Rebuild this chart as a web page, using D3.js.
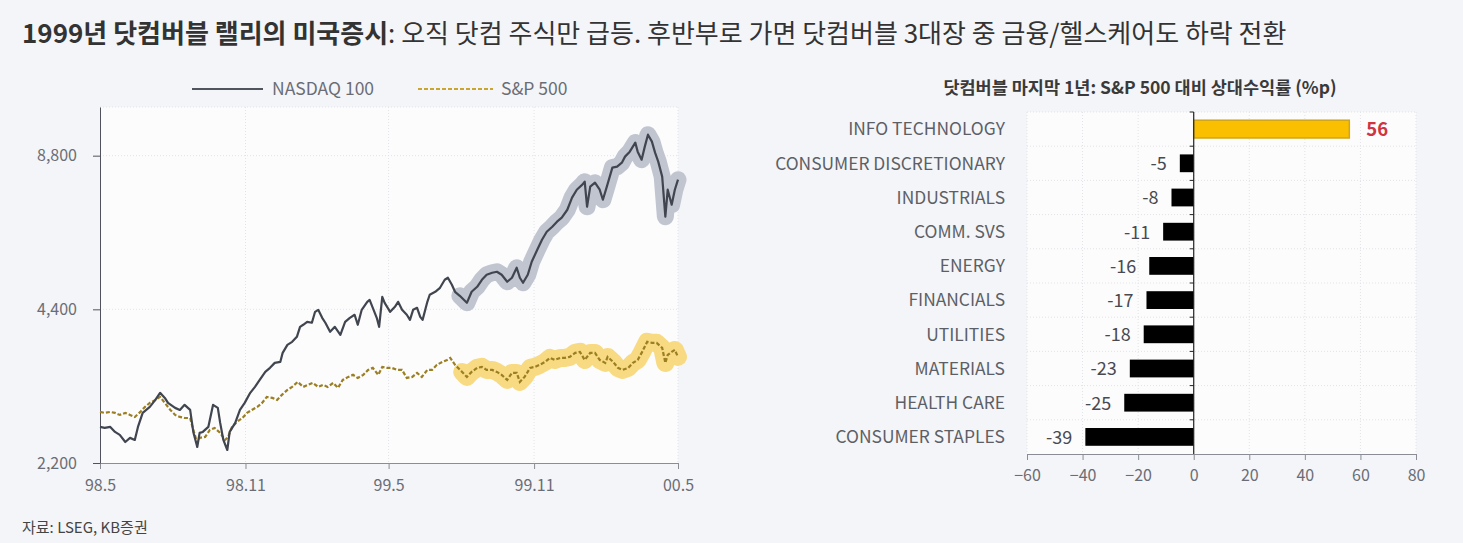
<!DOCTYPE html>
<html>
<head>
<meta charset="utf-8">
<script src="https://cdn.jsdelivr.net/npm/d3@7"></script>
<style>
  body { margin: 0; background: #f4f5f8; }
  svg { display: block; font-family: "Noto Sans CJK KR", "Noto Sans", sans-serif; }
</style>
</head>
<body>
<div id="chart"></div>
<script>
// NASDAQ 100 / S&P 500 (같은 축에 환산된 값)
const nasdaq = [
  ["1998-05-01",2589],["1998-05-07",2577],["1998-05-14",2589],["1998-05-20",2531],["1998-05-26",2498],
  ["1998-06-02",2419],["1998-06-08",2464],["1998-06-14",2441],["1998-06-18",2589],["1998-06-24",2758],
  ["1998-07-03",2834],["1998-07-10",2924],["1998-07-16",3019],["1998-07-22",2951],["1998-07-26",2885],
  ["1998-08-04",2821],["1998-08-10",2795],["1998-08-16",2860],["1998-08-23",2795],["1998-08-27",2531],
  ["1998-09-01",2365],["1998-09-04",2520],["1998-09-08",2531],["1998-09-15",2589],["1998-09-21",2860],
  ["1998-09-27",2821],["1998-09-30",2636],["1998-10-04",2441],["1998-10-09",2333],["1998-10-12",2531],
  ["1998-10-19",2636],["1998-10-25",2795],["1998-10-31",2885],["1998-11-07",3019],["1998-11-13",3101],
  ["1998-11-19",3200],["1998-11-26",3318],["1998-12-02",3379],["1998-12-08",3456],["1998-12-15",3471],
  ["1998-12-18",3615],["1998-12-24",3749],["1998-12-30",3800],["1999-01-05",3887],["1999-01-09",4066],
  ["1999-01-13",4104],["1999-01-18",4159],["1999-01-24",4141],["1999-01-28",4351],["1999-02-01",4390],
  ["1999-02-06",4235],["1999-02-10",4141],["1999-02-16",3976],["1999-02-22",4066],["1999-03-01",3922],
  ["1999-03-07",4159],["1999-03-13",4235],["1999-03-19",4293],["1999-03-23",4104],["1999-03-28",4390],
  ["1999-04-04",4552],["1999-04-07",4592],["1999-04-11",4430],["1999-04-16",4235],["1999-04-19",4066],
  ["1999-04-23",4656],["1999-04-26",4531],["1999-05-03",4351],["1999-05-09",4450],["1999-05-13",4552],
  ["1999-05-18",4390],["1999-05-24",4293],["1999-05-28",4196],["1999-06-01",4390],["1999-06-06",4430],
  ["1999-06-10",4254],["1999-06-13",4196],["1999-06-19",4552],["1999-06-22",4699],["1999-06-29",4762],
  ["1999-07-05",4849],["1999-07-11",5027],["1999-07-15",5073],["1999-07-20",4916],["1999-07-24",4762],
  ["1999-07-30",4677],["1999-08-08",4531],["1999-08-14",4762],["1999-08-21",4871],["1999-08-27",5027],
  ["1999-09-02",5143],["1999-09-09",5189],["1999-09-15",5213],["1999-09-21",5143],["1999-09-28",4983],
  ["1999-10-04",5073],["1999-10-10",5308],["1999-10-14",5073],["1999-10-18",4960],["1999-10-24",5143],
  ["1999-10-29",5453],["1999-11-05",5757],["1999-11-11",6022],["1999-11-17",6244],["1999-11-24",6387],
  ["1999-11-30",6533],["1999-12-06",6652],["1999-12-13",6895],["1999-12-19",7281],["1999-12-25",7547],
  ["2000-01-01",7722],["2000-01-04",7826],["2000-01-07",6990],["2000-01-11",7652],["2000-01-17",7791],
  ["2000-01-23",7547],["2000-01-27",7214],["2000-02-01",7652],["2000-02-08",8336],["2000-02-14",8375],
  ["2000-02-20",8527],["2000-02-24",8762],["2000-03-01",8961],["2000-03-08",9333],["2000-03-11",8961],
  ["2000-03-16",8642],["2000-03-20",9166],["2000-03-24",9674],["2000-03-29",9375],["2000-04-02",8921],
  ["2000-04-06",8566],["2000-04-11",8005],["2000-04-15",6682],["2000-04-18",7547],["2000-04-23",7054],
  ["2000-04-27",7547],["2000-05-01",7896]
];

const sp500 = [
  ["1998-05-01",2770],["1998-05-07",2758],["1998-05-14",2770],["1998-05-20",2758],["1998-05-26",2733],
  ["1998-06-02",2758],["1998-06-08",2733],["1998-06-14",2708],["1998-06-21",2770],["1998-06-27",2834],
  ["1998-07-03",2885],["1998-07-10",2924],["1998-07-16",2964],["1998-07-22",2885],["1998-07-29",2795],
  ["1998-08-04",2733],["1998-08-10",2708],["1998-08-16",2695],["1998-08-23",2695],["1998-08-27",2554],
  ["1998-09-01",2409],["1998-09-04",2464],["1998-09-11",2475],["1998-09-17",2554],["1998-09-23",2577],
  ["1998-09-30",2520],["1998-10-06",2441],["1998-10-10",2475],["1998-10-15",2589],["1998-10-21",2647],
  ["1998-10-28",2695],["1998-11-03",2758],["1998-11-09",2795],["1998-11-16",2834],["1998-11-22",2885],
  ["1998-11-28",2964],["1998-12-05",2951],["1998-12-11",2924],["1998-12-17",2991],["1998-12-24",3059],
  ["1998-12-30",3101],["1999-01-06",3172],["1999-01-13",3101],["1999-01-19",3129],["1999-01-25",3158],
  ["1999-02-01",3101],["1999-02-07",3129],["1999-02-13",3101],["1999-02-20",3158],["1999-02-26",3087],
  ["1999-03-04",3200],["1999-03-11",3244],["1999-03-17",3274],["1999-03-23",3229],["1999-03-30",3274],
  ["1999-04-05",3348],["1999-04-11",3379],["1999-04-18",3274],["1999-04-23",3394],["1999-04-29",3379],
  ["1999-05-05",3379],["1999-05-12",3348],["1999-05-18",3348],["1999-05-24",3229],["1999-05-31",3244],
  ["1999-06-06",3303],["1999-06-12",3244],["1999-06-19",3348],["1999-06-25",3348],["1999-07-01",3425],
  ["1999-07-08",3471],["1999-07-14",3502],["1999-07-18",3534],["1999-07-24",3425],["1999-08-02",3318],
  ["1999-08-08",3244],["1999-08-14",3318],["1999-08-21",3379],["1999-08-27",3394],["1999-09-02",3348],
  ["1999-09-09",3348],["1999-09-15",3318],["1999-09-21",3274],["1999-09-28",3200],["1999-10-04",3303],
  ["1999-10-10",3303],["1999-10-14",3172],["1999-10-20",3244],["1999-10-27",3379],["1999-11-02",3394],
  ["1999-11-08",3425],["1999-11-15",3471],["1999-11-21",3534],["1999-11-27",3502],["1999-12-04",3534],
  ["1999-12-10",3534],["1999-12-16",3550],["1999-12-23",3615],["1999-12-29",3631],["2000-01-04",3502],
  ["2000-01-11",3615],["2000-01-17",3615],["2000-01-23",3502],["2000-01-30",3456],["2000-02-02",3550],
  ["2000-02-09",3471],["2000-02-15",3379],["2000-02-21",3348],["2000-02-28",3379],["2000-03-05",3456],
  ["2000-03-11",3502],["2000-03-16",3615],["2000-03-23",3800],["2000-03-29",3783],["2000-04-04",3783],
  ["2000-04-11",3698],["2000-04-15",3456],["2000-04-18",3583],["2000-04-23",3631],["2000-04-27",3664],
  ["2000-05-01",3550]
];

const highlightFrom = "1999-07-28";
const yTicks = [2200, 4400, 8800];
const xTicks = ["1998-05-01", "1998-11-01", "1999-05-01", "1999-11-01", "2000-05-01"];
const xTickLabels = ["98.5", "98.11", "99.5", "99.11", "00.5"];

// 섹터별 상대수익률
const sectors = ["INFO TECHNOLOGY", "CONSUMER DISCRETIONARY", "INDUSTRIALS", "COMM. SVS", "ENERGY",
  "FINANCIALS", "UTILITIES", "MATERIALS", "HEALTH CARE", "CONSUMER STAPLES"];
const relReturns = [56, -5, -8, -11, -16, -17, -18, -23, -25, -39];
const barTicks = [-60, -40, -20, 0, 20, 40, 60, 80];

const W = 1463, H = 543;
const parse = d3.timeParse("%Y-%m-%d");

const svg = d3.select("#chart").append("svg").attr("width", W).attr("height", H);
svg.append("rect").attr("width", W).attr("height", H).attr("fill", "#f4f5f8");

// 제목
const title = svg.append("text").attr("x", 22).attr("y", 43)
  .style("font-size", "26px").style("fill", "#333");
title.append("tspan").style("font-weight", "bold").text("1999년 닷컴버블 랠리의 미국증시");
title.append("tspan").text(": 오직 닷컴 주식만 급등. 후반부로 가면 닷컴버블 3대장 중 금융/헬스케어도 하락 전환");

svg.append("text").attr("x", 22).attr("y", 533)
  .style("font-size", "15px").style("fill", "#444").text("자료: LSEG, KB증권");

// ---------- 왼쪽: 지수 라인 ----------
const L = { left: 100, right: 678, top: 107, bottom: 463 };
const x = d3.scaleTime().domain([parse(xTicks[0]), parse(xTicks[4])]).range([L.left, L.right]);
const y = d3.scaleLog().domain([2200, 10960]).range([L.bottom, L.top]);

svg.append("rect").attr("x", L.left).attr("y", L.top)
  .attr("width", L.right - L.left).attr("height", L.bottom - L.top).attr("fill", "#fcfcfd");

const gridL = svg.append("g").style("stroke", "#e2e3e8").style("stroke-dasharray", "1,2");
xTicks.slice(1).forEach(t => gridL.append("line")
  .attr("x1", x(parse(t))).attr("x2", x(parse(t))).attr("y1", L.top).attr("y2", L.bottom));
yTicks.slice(1).forEach(t => gridL.append("line")
  .attr("x1", L.left).attr("x2", L.right).attr("y1", y(t)).attr("y2", y(t)));
gridL.append("line").attr("x1", L.left).attr("x2", L.right).attr("y1", L.top).attr("y2", L.top);

const xAxis = svg.append("g").attr("transform", `translate(0,${L.bottom})`)
  .call(d3.axisBottom(x).tickValues(xTicks.map(parse)).tickSize(6).tickSizeOuter(0)
    .tickFormat((d, i) => xTickLabels[i]));
xAxis.select(".domain").attr("stroke", "#8a8d96");
xAxis.selectAll(".tick line").attr("stroke", "#8a8d96");
xAxis.selectAll("text").attr("dy", "1.2em").style("font-size", "16px").style("fill", "#6a6d75")
  .style("font-family", "'Noto Sans CJK KR', sans-serif");

const yAxis = svg.append("g").attr("transform", `translate(${L.left},0)`)
  .call(d3.axisLeft(y).tickValues(yTicks).tickFormat(d3.format(",")).tickSize(7).tickSizeOuter(0));
yAxis.select(".domain").attr("stroke", "#50535c");
yAxis.selectAll(".tick line").attr("stroke", "#50535c");
yAxis.selectAll("text").attr("x", -23).style("font-size", "16px").style("fill", "#6a6d75")
  .style("font-family", "'Noto Sans CJK KR', sans-serif");

const line = d3.line().x(d => x(parse(d[0]))).y(d => y(d[1]));
const late = arr => arr.filter(d => d[0] >= highlightFrom);

svg.append("path").attr("d", line(late(nasdaq))).attr("fill", "none")
  .attr("stroke", "#c0c5d0").attr("stroke-width", 17)
  .attr("stroke-linejoin", "round").attr("stroke-linecap", "round");
svg.append("path").attr("d", line(late(sp500))).attr("fill", "none")
  .attr("stroke", "#f8da82").attr("stroke-width", 18)
  .attr("stroke-linejoin", "round").attr("stroke-linecap", "round");

svg.append("path").attr("d", line(sp500)).attr("fill", "none")
  .attr("stroke", "#9c7f22").attr("stroke-width", 2.2).attr("stroke-dasharray", "4,2");
svg.append("path").attr("d", line(nasdaq)).attr("fill", "none")
  .attr("stroke", "#40454f").attr("stroke-width", 2.2).attr("stroke-linejoin", "round");

// 범례
const lg = svg.append("g").style("font-size", "17.5px").style("fill", "#6a6d75");
lg.append("line").attr("x1", 192).attr("x2", 263).attr("y1", 89).attr("y2", 89)
  .attr("stroke", "#50545e").attr("stroke-width", 2.2);
lg.append("text").attr("x", 272).attr("y", 95).text("NASDAQ 100");
lg.append("line").attr("x1", 418).attr("x2", 493).attr("y1", 89).attr("y2", 89)
  .attr("stroke", "#c9a630").attr("stroke-width", 2).attr("stroke-dasharray", "4,2");
lg.append("text").attr("x", 501).attr("y", 95).text("S&P 500");

// ---------- 오른쪽: 섹터 막대 ----------
const R = { left: 1027, right: 1416, top: 112, bottom: 454 };
const bx = d3.scaleLinear().domain([-60, 80]).range([R.left, R.right]);
const by = d3.scaleBand().domain(sectors).range([R.top, R.bottom]).paddingInner(0.48).paddingOuter(0.24);

svg.append("text").attr("x", 1140).attr("y", 94).attr("text-anchor", "middle")
  .style("font-size", "17.5px").style("font-weight", "bold").style("fill", "#3a3a3a")
  .text("닷컴버블 마지막 1년: S&P 500 대비 상대수익률 (%p)");

svg.append("rect").attr("x", R.left).attr("y", R.top)
  .attr("width", R.right - R.left).attr("height", R.bottom - R.top).attr("fill", "#fcfcfd");

const rowH = (R.bottom - R.top) / sectors.length;
const gridR = svg.append("g").style("stroke", "#e2e3e8").style("stroke-dasharray", "1,2");
barTicks.forEach(t => gridR.append("line")
  .attr("x1", bx(t)).attr("x2", bx(t)).attr("y1", R.top).attr("y2", R.bottom));
d3.range(sectors.length).forEach(i => gridR.append("line")
  .attr("x1", R.left).attr("x2", R.right).attr("y1", R.top + i * rowH).attr("y2", R.top + i * rowH));

svg.append("g").selectAll("rect").data(sectors).enter().append("rect")
  .attr("x", (d, i) => bx(Math.min(0, relReturns[i])))
  .attr("y", d => by(d))
  .attr("width", (d, i) => Math.abs(bx(relReturns[i]) - bx(0)))
  .attr("height", by.bandwidth())
  .attr("fill", (d, i) => relReturns[i] > 0 ? "#fac000" : "#000")
  .attr("stroke", (d, i) => relReturns[i] > 0 ? "#d2a514" : "none")
  .attr("stroke-width", 1.5);

svg.append("g").selectAll("text").data(sectors).enter().append("text")
  .attr("x", 1005).attr("y", d => by(d) + by.bandwidth() / 2).attr("dy", "0.36em")
  .attr("text-anchor", "end").style("font-size", "17.4px").style("fill", "#5c5f66").text(d => d);

svg.append("g").selectAll("text").data(sectors).enter().append("text")
  .attr("x", (d, i) => relReturns[i] > 0 ? bx(relReturns[i]) + 17 : bx(relReturns[i]) - 13)
  .attr("y", d => by(d) + by.bandwidth() / 2).attr("dy", "0.38em")
  .attr("text-anchor", (d, i) => relReturns[i] > 0 ? "start" : "end")
  .style("font-size", (d, i) => relReturns[i] > 0 ? "18.5px" : "18px")
  .style("font-weight", (d, i) => relReturns[i] > 0 ? "bold" : "normal")
  .style("fill", (d, i) => relReturns[i] > 0 ? "#d0343f" : "#484a50")
  .text((d, i) => relReturns[i] > 0 ? relReturns[i] : "-" + Math.abs(relReturns[i]));

// 0 기준축
const zeroAxis = svg.append("g").attr("transform", `translate(${bx(0)},0)`);
zeroAxis.append("line").attr("y1", R.top).attr("y2", R.bottom).attr("stroke", "#222").attr("stroke-width", 1.2);
d3.range(sectors.length).forEach(i => zeroAxis.append("line")
  .attr("x1", -4).attr("x2", 0).attr("y1", R.top + i * rowH).attr("y2", R.top + i * rowH)
  .attr("stroke", "#222"));

const bAxis = svg.append("g").attr("transform", `translate(0,${R.bottom})`)
  .call(d3.axisBottom(bx).tickValues(barTicks).tickSize(6).tickSizeOuter(0));
bAxis.select(".domain").attr("stroke", "#8a8d96");
bAxis.selectAll(".tick line").attr("stroke", "#8a8d96");
bAxis.selectAll("text").attr("dy", "1.1em").style("font-size", "16px").style("fill", "#6a6d75")
  .style("font-family", "'Noto Sans CJK KR', sans-serif");
</script>
</body>
</html>
